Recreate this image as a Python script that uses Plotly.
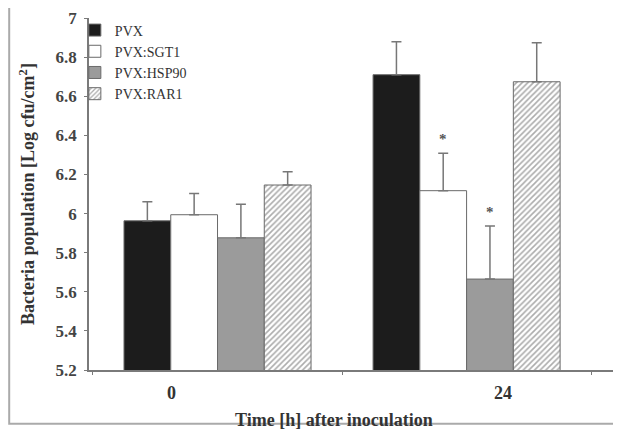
import plotly.graph_objects as go

categories = ["0", "24"]
tick_labels = ["0", "24"]
series_names = ["PVX", "PVX:SGT1", "PVX:HSP90", "PVX:RAR1"]
pvx = [5.963, 6.710]
pvx_sgt1 = [5.994, 6.117]
pvx_hsp90 = [5.876, 5.665]
pvx_rar1 = [6.146, 6.674]
err_pvx = [0.097, 0.168]
err_sgt1 = [0.109, 0.191]
err_hsp90 = [0.171, 0.271]
err_rar1 = [0.068, 0.199]
y_ticks = [5.2, 5.4, 5.6, 5.8, 6.0, 6.2, 6.4, 6.6, 6.8, 7.0]
y_tick_text = ["5.2", "5.4", "5.6", "5.8", "6", "6.2", "6.4", "6.6", "6.8", "7"]
significant = [(1, "PVX:SGT1"), (1, "PVX:HSP90")]

values = [pvx, pvx_sgt1, pvx_hsp90, pvx_rar1]
errors = [err_pvx, err_sgt1, err_hsp90, err_rar1]
fills = ["#1c1c1c", "#ffffff", "#9b9b9b", "#ffffff"]
serif = "Liberation Serif, Times New Roman, serif"

fig = go.Figure()
for i, name in enumerate(series_names):
    marker = dict(color=fills[i], line=dict(color="#6a6a6a", width=1))
    if name == "PVX:RAR1":
        marker["pattern"] = dict(shape="/", fgcolor="#5a5a5a", bgcolor="#ffffff",
                                 size=4, solidity=0.4)
    fig.add_trace(go.Bar(
        x=categories, y=values[i], name=name, base=0,
        marker=marker,
        error_y=dict(type="data", array=errors[i], arrayminus=[0] * len(categories),
                     symmetric=False, color="#777777", thickness=1.5, width=5),
    ))

# Significance asterisks
n = len(series_names)
group_frac = 0.751
bar_w = group_frac / n
for cat_idx, name in significant:
    k = series_names.index(name)
    xpos = cat_idx - group_frac / 2 + bar_w * (k + 0.5)
    ytop = values[k][cat_idx] + errors[k][cat_idx]
    fig.add_annotation(x=xpos, y=ytop, xref="x", yref="y", text="<b>*</b>", showarrow=False,
                       yshift=14, font=dict(family=serif, size=15, color="#555555"))

# x tick labels (placed as in the reference)
label_pos = [-0.183, 1.147]
for lbl, xp in zip(tick_labels, label_pos):
    fig.add_annotation(x=xp, y=0, xref="x", yref="paper", text="<b>%s</b>" % lbl,
                       showarrow=False, yanchor="top", yshift=-11,
                       font=dict(family=serif, size=18, color="#333333"))

# x axis title (offset to the left as in the reference)
fig.add_annotation(x=0.46, y=0, xref="paper", yref="paper",
                   text="<b>Time [h] after inoculation</b>", showarrow=False,
                   xanchor="center", yanchor="middle", yshift=-50,
                   font=dict(family=serif, size=18, color="#333333"))

# outer frame
fig.add_shape(type="rect", xref="paper", yref="paper", x0=-0.150, y0=-0.153,
              x1=1.03, y1=1.037, line=dict(color="#aaaaaa", width=2), layer="below")

fig.update_layout(
    width=613, height=426,
    margin=dict(l=81, r=0, t=10, b=64),
    paper_bgcolor="#ffffff", plot_bgcolor="#ffffff",
    barmode="group", bargap=0.249, bargroupgap=0,
    font=dict(family=serif, color="#333333"),
    showlegend=True,
    legend=dict(x=-0.0266, y=1.01, xanchor="left", yanchor="top",
                bgcolor="rgba(0,0,0,0)", font=dict(family=serif, size=14, color="#333333"),
                tracegroupgap=0, itemwidth=30),
    xaxis=dict(range=[-0.516, 1.62], showticklabels=False, showline=True,
               linecolor="#7a7a7a", linewidth=1.5, ticks="outside", tickson="boundaries",
               ticklen=3, tickcolor="#7a7a7a", showgrid=False, zeroline=False),
    yaxis=dict(range=[5.2, 7.0], tickvals=y_ticks, ticktext=["<b>%s</b>" % t for t in y_tick_text],
               showline=True, linecolor="#7a7a7a", linewidth=1.5, ticks="outside",
               ticklen=3, tickcolor="#7a7a7a", showgrid=False, zeroline=False,
               ticklabelstandoff=4,
               tickfont=dict(family=serif, size=17, color="#444444"),
               title=dict(text="<b>Bacteria population [Log cfu/cm<sup>2</sup>]</b>", standoff=16,
                          font=dict(family=serif, size=18, color="#333333"))),
)

fig.write_html("out.html")
